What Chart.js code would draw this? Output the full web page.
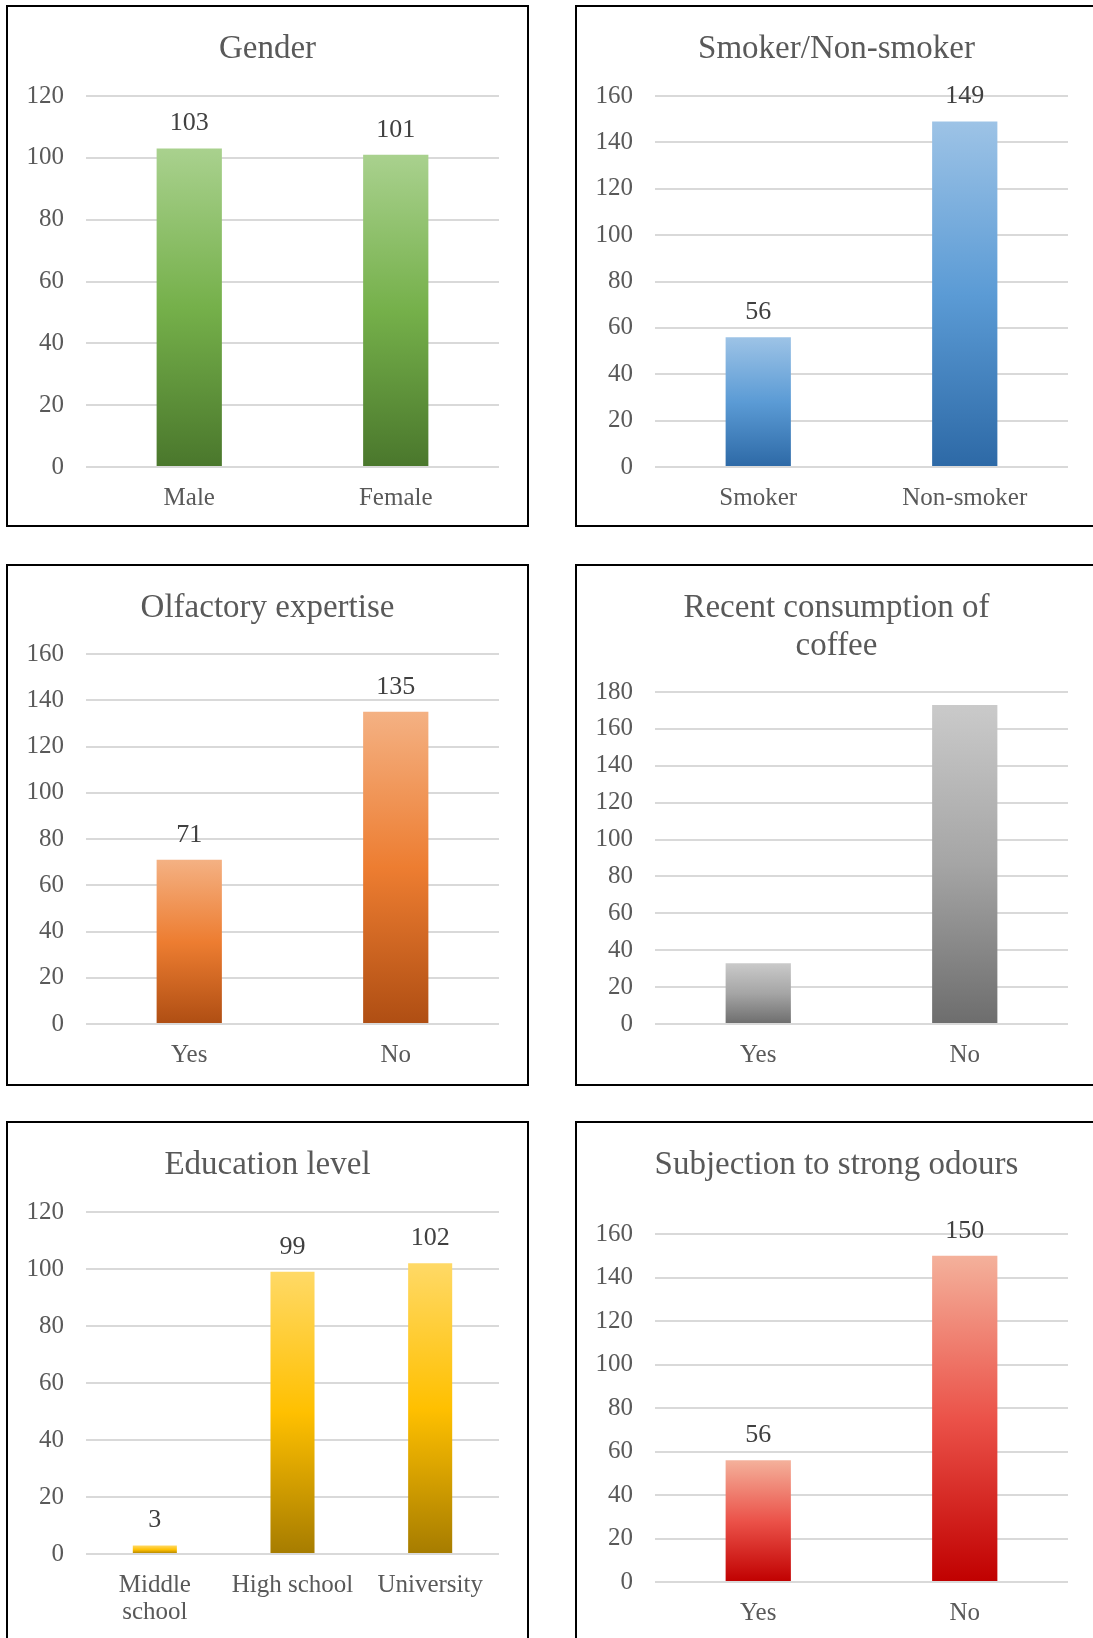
<!DOCTYPE html>
<html>
<head>
<meta charset="utf-8">
<title>Participant characteristics</title>
<script src="https://cdn.jsdelivr.net/npm/chart.js@4/dist/chart.umd.min.js"></script>
<style>
  html, body { margin: 0; padding: 0; background: #fff; }
  body { width: 1093px; height: 1638px; position: relative; overflow: hidden; }
  .panel { position: absolute; box-sizing: border-box; width: 523px; height: 522px; border: 2px solid #000; background: #fff; }
  .panel canvas { display: block; }
</style>
</head>
<body>
<div class="panel" style="left:6px;top:5px"><canvas id="gender" width="519" height="518"></canvas></div>
<div class="panel" style="left:575px;top:5px"><canvas id="smoker" width="519" height="518"></canvas></div>
<div class="panel" style="left:6px;top:564px"><canvas id="olfactory" width="519" height="518"></canvas></div>
<div class="panel" style="left:575px;top:564px"><canvas id="coffee" width="519" height="518"></canvas></div>
<div class="panel" style="left:6px;top:1121px"><canvas id="education" width="519" height="518"></canvas></div>
<div class="panel" style="left:575px;top:1121px"><canvas id="odours" width="519" height="518"></canvas></div>
<script>
// ---- data ----
const genderLabels = ['Male', 'Female'];
const genderCounts = [103, 101];

const smokerLabels = ['Smoker', 'Non-smoker'];
const smokerCounts = [56, 149];

const olfactoryLabels = ['Yes', 'No'];
const olfactoryCounts = [71, 135];

const coffeeLabels = ['Yes', 'No'];
const coffeeCounts = [33, 173];

const educationLabels = [['Middle', 'school'], 'High school', 'University'];
const educationCounts = [3, 99, 102];

const odoursLabels = ['Yes', 'No'];
const odoursCounts = [56, 150];

// ---- gradient palettes (top, middle, bottom) ----
const greenStops = ['#A9D18E', '#75B04A', '#4A772C'];
const blueStops = ['#9DC3E6', '#5B9BD5', '#2D69A6'];
const orangeStops = ['#F4B183', '#ED7D31', '#AF4E13'];
const greyStops = ['#CACACA', '#A5A5A5', '#6D6D6D'];
const goldStops = ['#FFD966', '#FFC000', '#A67C00'];
const redStops = ['#F4B19B', '#EB5249', '#C00000'];

const FONT = '"Liberation Serif", "DejaVu Serif", serif';
const CANVAS_W = 519, CANVAS_H = 518;

// value labels above each bar
const valueLabels = {
  id: 'valueLabels',
  afterDatasetsDraw(chart, args, opts) {
    if (!opts || !opts.show) return;
    const ctx = chart.ctx;
    const meta = chart.getDatasetMeta(0);
    const values = chart.data.datasets[0].data;
    ctx.save();
    ctx.font = '26px ' + FONT;
    ctx.fillStyle = '#404040';
    ctx.textAlign = 'center';
    ctx.textBaseline = 'middle';
    meta.data.forEach((bar, i) => {
      ctx.fillText(String(values[i]), bar.x, bar.y - 25);
    });
    ctx.restore();
  }
};

function gradientFill(stops) {
  return (c) => {
    const chart = c.chart;
    if (!chart.chartArea || c.type !== 'data' || !chart.scales.y) return stops[1];
    const y = chart.scales.y;
    const top = y.getPixelForValue(c.raw);
    const base = y.getPixelForValue(0);
    if (!isFinite(top) || !isFinite(base) || base - top < 1) return stops[0];
    const g = chart.ctx.createLinearGradient(0, top, 0, base);
    g.addColorStop(0, stops[0]);
    g.addColorStop(0.5, stops[1]);
    g.addColorStop(1, stops[2]);
    return g;
  };
}

// area: plot box inside the canvas (left, right, top, bottom)
function makeChart(id, title, labels, counts, stops, yMax, area, showValues, barPct) {
  const titleLines = Array.isArray(title) ? title.length : 1;
  const titleSize = 33, titleLine = 38;
  const titleTop = 42 - titleLine / 2;
  const titleBottom = area.top - titleTop - titleLine * titleLines;
  new Chart(document.getElementById(id), {
    type: 'bar',
    data: {
      labels: labels,
      datasets: [{
        data: counts,
        backgroundColor: gradientFill(stops),
        borderWidth: 0,
        barPercentage: barPct,
        categoryPercentage: 1.0
      }]
    },
    plugins: [valueLabels],
    options: {
      responsive: false,
      animation: false,
      devicePixelRatio: 1,
      layout: { padding: 0 },
      plugins: {
        legend: { display: false },
        tooltip: { enabled: false },
        title: {
          display: true,
          text: title,
          color: '#595959',
          font: { family: FONT, size: titleSize, weight: 'normal', lineHeight: titleLine / titleSize },
          padding: { top: titleTop, bottom: titleBottom }
        },
        valueLabels: { show: showValues }
      },
      scales: {
        x: {
          grid: { display: false },
          border: { display: false },
          ticks: {
            color: '#595959',
            font: { family: FONT, size: 25, lineHeight: 1.07 },
            padding: 10,
            maxRotation: 0,
            autoSkip: false
          },
          afterFit: (s) => { s.height = CANVAS_H - area.bottom; }
        },
        y: {
          min: 0,
          max: yMax,
          grid: { color: '#D9D9D9', lineWidth: 2, drawTicks: false },
          border: { display: false },
          ticks: {
            stepSize: 20,
            color: '#595959',
            font: { family: FONT, size: 25 },
            padding: 22
          },
          afterFit: (s) => { s.width = area.left; }
        },
        // empty margin on the right of the plot
        rightMargin: {
          type: 'linear',
          position: 'right',
          display: true,
          grid: { display: false },
          border: { display: false },
          ticks: { display: false },
          afterFit: (s) => { s.width = CANVAS_W - area.right; }
        }
      }
    }
  });
}

makeChart('gender', 'Gender', genderLabels, genderCounts, greenStops, 120,
  { left: 78, right: 491, top: 89, bottom: 460 }, true, 0.316);
makeChart('smoker', 'Smoker/Non-smoker', smokerLabels, smokerCounts, blueStops, 160,
  { left: 78, right: 491, top: 89, bottom: 460 }, true, 0.316);
makeChart('olfactory', 'Olfactory expertise', olfactoryLabels, olfactoryCounts, orangeStops, 160,
  { left: 78, right: 491, top: 88, bottom: 458 }, true, 0.316);
makeChart('coffee', ['Recent consumption of', 'coffee'], coffeeLabels, coffeeCounts, greyStops, 180,
  { left: 78, right: 491, top: 126, bottom: 458 }, false, 0.316);
makeChart('education', 'Education level', educationLabels, educationCounts, goldStops, 120,
  { left: 78, right: 491, top: 89, bottom: 431 }, true, 0.32);
makeChart('odours', 'Subjection to strong odours', odoursLabels, odoursCounts, redStops, 160,
  { left: 78, right: 491, top: 111, bottom: 459 }, true, 0.316);
</script>
</body>
</html>
